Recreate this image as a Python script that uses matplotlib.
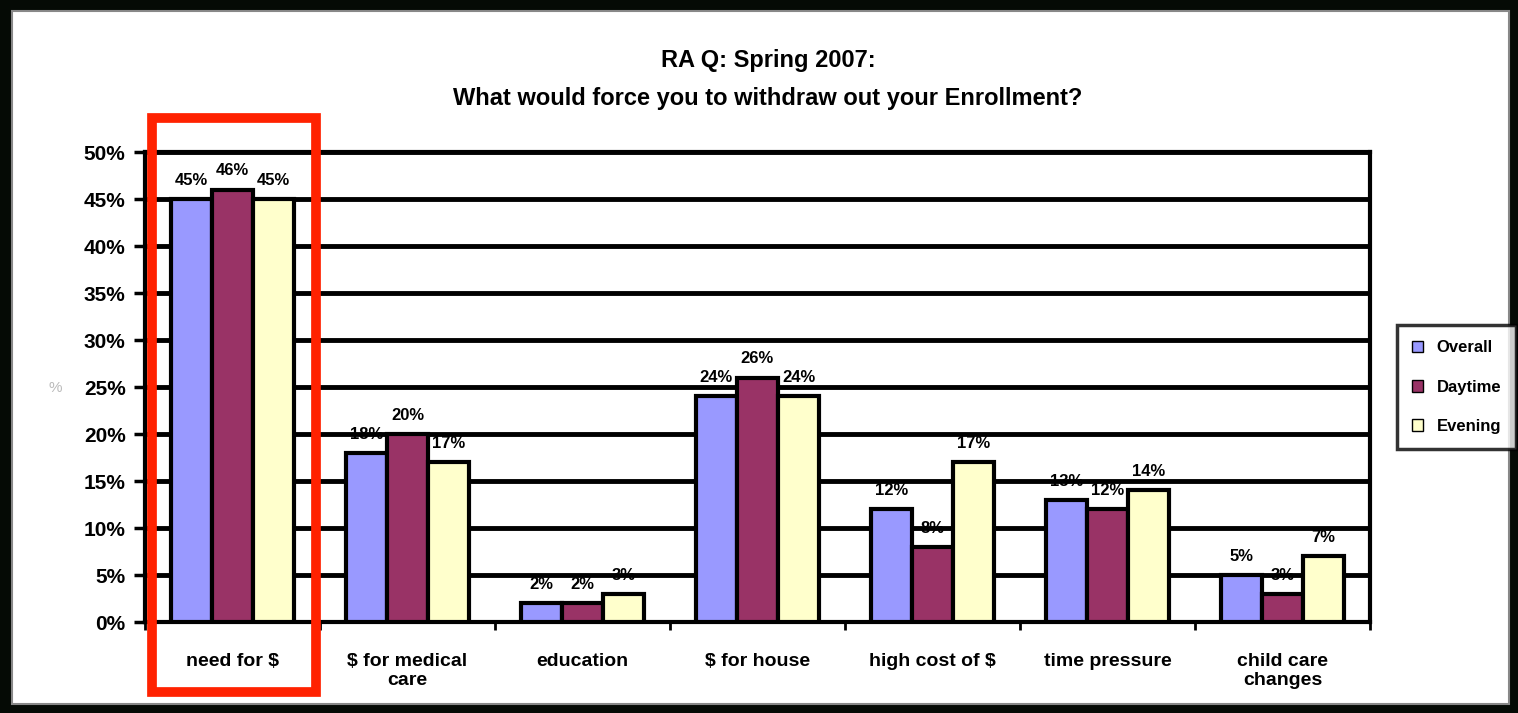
import numpy as np
import matplotlib.pyplot as plt
from matplotlib.patches import Rectangle

# Survey data
categories = ["need for $", "$ for medical\ncare", "education", "$ for house",
              "high cost of $", "time pressure", "child care\nchanges"]
overall = [45, 18, 2, 24, 12, 13, 5]
daytime = [46, 20, 2, 26, 8, 12, 3]
evening = [45, 17, 3, 24, 17, 14, 7]
series_names = ["Overall", "Daytime", "Evening"]
colors = ["#9999FF", "#993366", "#FFFFCC"]

plt.rcParams["font.family"] = ["Liberation Sans", "DejaVu Sans"]
plt.rcParams["font.weight"] = "bold"

fig = plt.figure(figsize=(15.18, 7.13), dpi=100)
fig.patch.set_facecolor("#050a05")

# white chart area
fig.patches.append(Rectangle((0.008, 0.012), 0.986, 0.972, transform=fig.transFigure,
                             facecolor="white", edgecolor="#888888", lw=1.5, zorder=-5))

ax = fig.add_axes([0.0955, 0.1276, 0.807, 0.6592])
ax.set_facecolor("white")
ax.set_zorder(1)

x = np.arange(len(categories))
w = 0.235
for k, (vals, name, c) in enumerate(zip([overall, daytime, evening], series_names, colors)):
    pos = x + (k - 1) * w
    bars = ax.bar(pos, vals, width=w, color=c, edgecolor="black", linewidth=3,
                  label=name, zorder=3)
    for b, v in zip(bars, vals):
        ax.text(b.get_x() + b.get_width() / 2, v + 1.2, f"{v}%", ha="center",
                va="bottom", fontsize=12, fontweight="bold", zorder=4)

ax.set_ylim(0, 50)
ax.set_xlim(-0.5, len(categories) - 0.5)
ax.set_yticks(np.arange(0, 51, 5))
ax.set_yticklabels([f"{t}%" for t in range(0, 51, 5)], fontsize=15, fontweight="bold")
ax.yaxis.grid(True, color="black", linewidth=3.5, zorder=1)
ax.set_axisbelow(True)
ax.tick_params(axis="y", length=8, width=2.5, pad=6)

ax.set_xticks(x)
ax.set_xticklabels(categories, fontsize=14, fontweight="bold")
ax.tick_params(axis="x", length=0, pad=22)
ax.set_xticks(np.arange(-0.5, len(categories), 1), minor=True)
ax.tick_params(axis="x", which="minor", length=6, width=2)

for s in ax.spines.values():
    s.set_linewidth(3)
    s.set_color("black")

fig.text(55 / 1518, 1 - 388 / 713, "%", ha="center", va="center", fontsize=11,
         color="#bbbbbb", fontweight="normal")

fig.text(0.506, 0.915, "RA Q: Spring 2007:", ha="center", va="center",
         fontsize=17, fontweight="bold")
fig.text(0.506, 0.862, "What would force you to withdraw out your Enrollment?", ha="center",
         va="center", fontsize=17, fontweight="bold")

leg = ax.legend(loc="center left", bbox_to_anchor=(1.015, 0.5), fontsize=12,
                frameon=True, fancybox=False, edgecolor="black", handlelength=0.7,
                handleheight=0.7, borderpad=0.9, labelspacing=1.45)
leg.get_frame().set_linewidth(2.5)
for h in leg.legend_handles:
    h.set_linewidth(1)

# red highlight around first group
fig.patches.append(Rectangle((152 / 1518, 1 - 692 / 713), 164 / 1518, 574 / 713,
                             transform=fig.transFigure, fill=False,
                             edgecolor="#FF2200", lw=7, zorder=10))

fig.savefig("out.png", dpi=100, facecolor=fig.get_facecolor())
